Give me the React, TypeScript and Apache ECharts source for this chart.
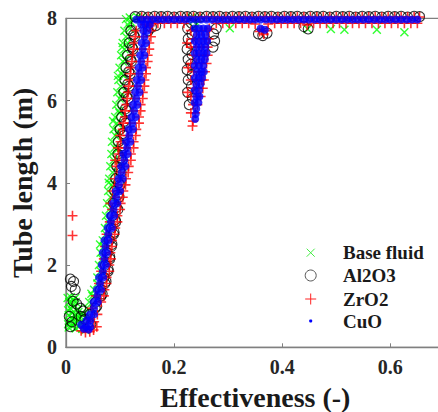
import React, { useEffect, useRef } from "react";
import * as echarts from "echarts";

type P = [number, number];

const xTicks = [0, 0.2, 0.4, 0.6];
const yTicks = [0, 2, 4, 6, 8];

const baseFluid: P[] = [
  [0.005,0.48],[0.011,0.52],[0.018,0.46],[0.024,0.5],[0.007,0.62],[0.014,0.68],[0.021,0.64],[0.005,0.78],[0.012,0.84],[0.019,0.8],[0.026,0.76],[0.008,0.95],[0.015,1.0],[0.022,0.93],[0.006,1.1],[0.013,1.15],[0.009,1.22],[0.017,1.2],[0.03,0.45],[0.036,0.42],[0.027,0.58],
  [0.004,0.56],[0.01,0.72],[0.016,0.58],[0.023,0.86],[0.004,0.9],[0.011,1.06],[0.018,1.1],[0.003,1.2],[0.02,0.72],
  [0.032,0.8],[0.038,0.95],[0.03,0.65],[0.036,0.72],[0.043,1.1],[0.049,1.25],[0.047,1.3],[0.052,1.4],[0.058,1.55],[0.058,1.7],[0.064,1.85],[0.061,2.0],[0.067,2.15],[0.064,2.3],[0.07,2.45],[0.063,2.5],
  [0.068,2.6],[0.074,2.75],[0.072,2.9],[0.078,3.05],[0.074,3.2],[0.08,3.35],[0.076,3.5],[0.082,3.65],[0.078,3.8],[0.084,3.95],[0.079,4.0],[0.08,4.1],[0.086,4.25],[0.082,4.4],[0.088,4.55],
  [0.084,4.7],[0.09,4.85],[0.085,5.0],[0.091,5.15],[0.088,5.3],[0.094,5.45],[0.087,5.5],[0.091,5.6],[0.097,5.75],[0.093,5.9],[0.099,6.05],[0.095,6.2],[0.101,6.35],[0.097,6.5],[0.103,6.65],[0.096,6.6],
  [0.099,6.8],[0.105,6.95],[0.102,7.1],[0.108,7.25],[0.104,7.3],[0.105,7.4],[0.111,7.55],[0.108,7.7],[0.114,7.85],
  [0.094,4.8],[0.096,5.25],[0.099,5.7],[0.104,6.15],[0.107,6.6],[0.11,7.0],[0.114,7.4],[0.118,7.75],
  [0.111,7.98],[0.118,8.02],[0.125,7.97],[0.132,8.03],[0.121,7.9],[0.138,8.0],
  [0.236,7.95],[0.241,7.85],[0.238,7.75],[0.244,8.0],[0.232,8.02],
  [0.303,7.76],[0.447,7.74],[0.49,7.74],[0.515,7.72],[0.575,7.72],[0.626,7.66]
];

const al2o3: P[] = [
  [0.008,1.66],[0.014,1.6],[0.01,1.48],[0.017,1.4],[0.013,1.12],[0.02,1.05],[0.027,0.95],[0.032,0.88],[0.006,0.75],[0.011,0.62],[0.008,0.5],[0.028,0.75],[0.035,0.68],[0.041,0.6],[0.046,0.55],
  [0.044,0.8],[0.054,0.95],[0.055,1.1],[0.065,1.25],[0.064,1.4],[0.072,1.55],[0.07,1.7],[0.078,1.85],[0.073,2.0],[0.081,2.15],[0.076,2.3],[0.084,2.45],[0.08,2.6],[0.088,2.75],[0.084,2.9],[0.092,3.05],
  [0.086,3.2],[0.096,3.35],[0.088,3.5],[0.098,3.65],[0.09,3.8],[0.1,3.95],[0.092,4.1],[0.102,4.25],[0.094,4.4],[0.104,4.55],[0.096,4.7],[0.106,4.85],[0.097,5.0],[0.107,5.15],[0.1,5.3],[0.11,5.45],
  [0.103,5.6],[0.113,5.75],[0.105,5.9],[0.115,6.05],[0.107,6.2],[0.117,6.35],[0.109,6.5],[0.119,6.65],[0.111,6.8],[0.121,6.95],[0.114,7.1],[0.124,7.25],[0.117,7.4],[0.127,7.55],[0.12,7.7],[0.13,7.85],
  [0.057,1.0],[0.067,1.3],[0.074,1.6],[0.078,1.9],[0.081,2.2],[0.085,2.5],[0.089,2.8],[0.091,3.1],[0.093,3.4],[0.095,3.7],[0.097,4.0],[0.099,4.3],[0.101,4.6],[0.103,4.9],[0.105,5.2],[0.108,5.5],
  [0.11,5.8],[0.112,6.1],[0.114,6.4],[0.116,6.7],[0.119,7.0],[0.122,7.3],[0.125,7.6],
  [0.128,8.04],[0.14,8.05],[0.152,8.03],[0.164,8.05],[0.176,8.04],[0.188,8.05],[0.2,8.03],[0.212,8.05],[0.224,8.04],[0.236,8.05],[0.248,8.03],[0.26,8.05],[0.272,8.04],[0.284,8.05],[0.296,8.03],
  [0.308,8.05],[0.32,8.04],[0.332,8.05],[0.344,8.03],[0.356,8.05],[0.368,8.04],[0.38,8.05],[0.392,8.03],[0.404,8.05],[0.416,8.04],[0.428,8.05],[0.44,8.03],[0.452,8.05],[0.464,8.04],[0.476,8.05],
  [0.488,8.03],[0.5,8.05],[0.512,8.04],[0.524,8.05],[0.536,8.03],[0.548,8.05],[0.56,8.04],[0.572,8.05],[0.584,8.03],[0.596,8.05],[0.608,8.04],[0.62,8.05],[0.632,8.03],[0.644,8.05],[0.654,8.04],
  [0.152,7.7],[0.158,7.78],[0.166,7.82],
  [0.228,5.9],[0.234,6.05],[0.225,6.2],[0.232,6.35],[0.226,6.5],[0.233,6.62],[0.224,6.75],[0.231,6.88],[0.226,7.0],[0.233,7.12],[0.224,7.25],[0.231,7.38],[0.226,7.5],[0.233,7.62],[0.225,7.75],[0.232,7.88],
  [0.272,7.3],[0.275,7.45],[0.273,7.62],[0.278,7.75],
  [0.356,7.62],[0.364,7.58],[0.372,7.64],
  [0.44,7.8],[0.448,7.74]
];

const zro2: P[] = [
  [0.012,3.2],[0.012,2.72],
  [0.028,0.4],[0.036,0.36],[0.044,0.38],[0.051,0.42],[0.057,0.5],[0.033,0.47],[0.04,0.5],[0.052,0.62],[0.045,0.68],
  [0.058,0.8],[0.048,0.95],[0.065,1.1],[0.055,1.25],[0.071,1.4],[0.061,1.55],[0.075,1.7],[0.065,1.85],[0.08,2.0],[0.07,2.15],[0.082,2.3],[0.072,2.45],[0.085,2.6],[0.075,2.75],[0.091,2.9],[0.081,3.05],
  [0.095,3.2],[0.085,3.35],[0.101,3.5],[0.091,3.65],[0.082,3.5],[0.106,3.8],[0.096,3.95],[0.086,3.8],[0.111,4.1],[0.101,4.25],[0.09,4.1],[0.116,4.4],[0.106,4.55],[0.094,4.4],
  [0.12,4.7],[0.11,4.85],[0.098,4.7],[0.125,5.0],[0.114,5.15],[0.101,5.0],[0.13,5.3],[0.119,5.45],[0.105,5.3],[0.135,5.6],[0.124,5.75],[0.109,5.6],[0.138,5.9],[0.127,6.05],[0.112,5.9],
  [0.142,6.2],[0.131,6.35],[0.115,6.2],[0.145,6.5],[0.134,6.65],[0.118,6.5],[0.148,6.8],[0.137,6.95],[0.12,6.8],[0.151,7.1],[0.14,7.25],[0.123,7.1],[0.154,7.4],[0.143,7.55],[0.126,7.4],
  [0.157,7.7],[0.146,7.85],[0.13,7.7],[0.155,7.82],[0.16,7.86],
  [0.091,4.55],[0.096,4.85],[0.1,5.15],[0.106,5.45],[0.109,5.75],[0.113,6.05],[0.116,6.35],[0.119,6.65],[0.122,6.95],[0.125,7.25],[0.128,7.55],
  [0.07,1.25],[0.075,1.55],[0.08,1.85],[0.083,2.15],[0.085,2.45],[0.09,2.75],[0.095,3.05],[0.1,3.35],[0.105,3.65],[0.11,3.95],[0.115,4.25],[0.12,4.55],[0.125,4.85],[0.129,5.15],[0.135,5.45],
  [0.138,5.75],[0.142,6.05],[0.145,6.35],[0.148,6.65],[0.151,6.95],[0.154,7.25],[0.157,7.55],
  [0.14,8.03],[0.152,8.03],[0.164,8.03],[0.176,8.03],[0.188,8.03],[0.2,8.03],[0.212,8.03],[0.224,8.03],[0.236,8.03],[0.248,8.03],[0.26,8.03],[0.272,8.03],[0.284,8.03],[0.296,8.03],[0.308,8.03],
  [0.32,8.03],[0.332,8.03],[0.344,8.03],[0.356,8.03],[0.368,8.03],[0.38,8.03],[0.392,8.03],[0.404,8.03],[0.416,8.03],[0.428,8.03],[0.44,8.03],[0.452,8.03],[0.464,8.03],[0.476,8.03],[0.488,8.03],
  [0.5,8.03],[0.512,8.03],[0.524,8.03],[0.536,8.03],[0.548,8.03],[0.56,8.03],[0.572,8.03],[0.584,8.03],[0.596,8.03],[0.608,8.03],[0.62,8.03],[0.632,8.03],[0.644,8.03],[0.654,8.03],
  [0.158,7.88],[0.17,7.88],[0.182,7.88],[0.194,7.88],[0.206,7.88],[0.218,7.88],[0.278,7.88],[0.29,7.88],[0.302,7.88],[0.314,7.88],[0.326,7.88],[0.338,7.88],[0.35,7.86],[0.362,7.7],[0.374,7.86],
  [0.386,7.88],[0.398,7.88],[0.41,7.88],[0.422,7.88],[0.434,7.88],[0.446,7.84],[0.458,7.88],[0.47,7.88],[0.482,7.88],[0.494,7.88],[0.506,7.88],[0.518,7.88],[0.53,7.88],[0.542,7.88],[0.554,7.88],
  [0.566,7.88],[0.578,7.88],[0.59,7.88],[0.602,7.88],[0.614,7.88],[0.626,7.88],[0.638,7.88],[0.65,7.88],
  [0.231,7.7],[0.241,7.7],[0.251,7.7],[0.261,7.7],[0.265,7.75],[0.236,7.5],[0.246,7.5],[0.256,7.5],[0.264,7.5],[0.231,7.3],[0.241,7.3],[0.251,7.3],[0.262,7.3],[0.236,7.1],[0.246,7.1],[0.256,7.1],[0.262,7.1],
  [0.231,6.9],[0.241,6.9],[0.251,6.9],[0.26,6.9],[0.236,6.7],[0.246,6.7],[0.257,6.7],[0.231,6.5],[0.241,6.5],[0.251,6.5],[0.255,6.5],[0.236,6.3],[0.246,6.3],[0.253,6.3],[0.231,6.1],[0.241,6.1],[0.249,6.1],
  [0.235,5.9],[0.243,5.9],[0.231,5.7],[0.239,5.7],[0.235,5.5],[0.234,5.38],[0.224,7.4],[0.226,6.8],[0.225,6.2],
  [0.358,7.68],[0.366,7.62],[0.372,7.7]
];

const cuo: P[] = [
  [0.028,0.55],[0.033,0.45],[0.042,0.43],[0.045,0.5],[0.037,0.5],[0.045,0.65],[0.038,0.66],[0.052,0.8],[0.044,0.8],[0.052,0.95],[0.059,1.1],[0.051,1.1],[0.058,1.25],
  [0.065,1.4],[0.057,1.4],[0.063,1.55],[0.069,1.7],[0.061,1.7],[0.068,1.85],[0.074,2.0],[0.066,2.0],[0.071,2.15],[0.076,2.3],[0.068,2.3],[0.073,2.45],
  [0.079,2.6],[0.071,2.6],[0.078,2.75],[0.085,2.9],[0.077,2.9],[0.083,3.05],[0.089,3.2],[0.081,3.2],[0.088,3.35],[0.095,3.5],[0.087,3.5],[0.093,3.65],
  [0.1,3.8],[0.092,3.8],[0.098,3.95],[0.105,4.1],[0.097,4.1],[0.103,4.25],[0.11,4.4],[0.102,4.4],[0.108,4.55],
  [0.114,4.7],[0.106,4.7],[0.113,4.85],[0.119,5.0],[0.111,5.0],[0.117,5.15],[0.124,5.3],[0.116,5.3],[0.123,5.45],
  [0.129,5.6],[0.121,5.6],[0.126,5.75],[0.132,5.9],[0.124,5.9],[0.13,6.05],[0.136,6.2],[0.128,6.2],[0.133,6.35],
  [0.139,6.5],[0.131,6.5],[0.136,6.65],[0.142,6.8],[0.134,6.8],[0.139,6.95],[0.145,7.1],[0.137,7.1],[0.142,7.25],
  [0.148,7.4],[0.14,7.4],[0.145,7.55],[0.151,7.7],[0.143,7.7],[0.147,7.85],[0.155,7.85],[0.139,7.85],
  [0.13,7.97],[0.14,7.97],[0.15,7.97],[0.16,7.97],[0.17,7.97],[0.18,7.97],[0.19,7.97],[0.2,7.97],[0.21,7.97],[0.22,7.97],[0.23,7.97],[0.24,7.97],[0.25,7.97],[0.26,7.97],[0.27,7.97],[0.28,7.97],
  [0.29,7.97],[0.3,7.97],[0.31,7.97],[0.32,7.97],[0.33,7.97],[0.34,7.97],[0.35,7.97],[0.36,7.97],[0.37,7.97],[0.38,7.97],[0.39,7.97],[0.4,7.97],[0.41,7.97],[0.42,7.97],[0.43,7.97],[0.44,7.97],
  [0.45,7.97],[0.46,7.97],[0.47,7.97],[0.48,7.97],[0.49,7.97],[0.5,7.97],[0.51,7.97],[0.52,7.97],[0.53,7.97],[0.54,7.97],[0.55,7.97],[0.56,7.97],[0.57,7.97],[0.58,7.97],[0.59,7.97],[0.6,7.97],
  [0.61,7.97],[0.62,7.97],[0.63,7.97],[0.64,7.97],[0.65,7.97],
  [0.238,7.75],[0.246,7.75],[0.254,7.75],[0.262,7.75],[0.242,7.6],[0.25,7.6],[0.258,7.6],[0.238,7.45],[0.246,7.45],[0.254,7.45],[0.261,7.45],[0.242,7.3],[0.25,7.3],[0.258,7.3],
  [0.238,7.15],[0.246,7.15],[0.254,7.15],[0.26,7.15],[0.242,7.0],[0.25,7.0],[0.257,7.0],[0.238,6.85],[0.246,6.85],[0.254,6.85],[0.242,6.7],[0.25,6.7],[0.255,6.7],[0.238,6.55],[0.246,6.55],[0.252,6.55],
  [0.241,6.4],[0.249,6.4],[0.238,6.25],[0.246,6.25],[0.241,6.1],[0.247,6.1],[0.238,5.95],[0.245,5.95],[0.241,5.8],[0.24,5.67],[0.239,5.55],
  [0.36,7.75],[0.368,7.72]
];

const legendNames = ["Base fluid", "Al2O3", "ZrO2", "CuO"];

const FONT = "Liberation Serif";

export default function App() {
  const ref = useRef<HTMLDivElement>(null);
  useEffect(() => {
    if (!ref.current) return;
    const chart = echarts.init(ref.current, undefined, { renderer: "svg" });
    const lx = 310.7;
    const tx = 343;
    const ly = [252.7, 275.5, 299, 321];
    const textStyle = (i: number) => ({
      type: "text",
      x: tx,
      y: ly[i],
      style: {
        text: legendNames[i],
        fontFamily: FONT,
        fontWeight: "bold",
        fontSize: 19,
        fill: "#1a1a1a",
        verticalAlign: "middle",
      },
    });
    chart.setOption({
      animation: false,
      backgroundColor: "#ffffff",
      grid: {
        left: 66,
        right: 1.6,
        top: 18.3,
        bottom: 64.7,
        outerBoundsMode: "none",
        containLabel: false,
        show: true,
        borderColor: "#808080",
        borderWidth: 1.3,
        backgroundColor: "transparent",
      },
      xAxis: {
        type: "value",
        min: xTicks[0],
        max: 0.7,
        interval: 0.2,
        name: "Effectiveness (-)",
        nameLocation: "middle",
        nameGap: 36,
        nameTextStyle: { fontFamily: FONT, fontWeight: "bold", fontSize: 28, color: "#1a1a1a" },
        axisLine: { show: true, lineStyle: { color: "#808080", width: 1.3 } },
        axisTick: { show: true, inside: true, length: 4, lineStyle: { color: "#808080" } },
        axisLabel: {
          showMaxLabel: false,
          margin: 10,
          fontFamily: FONT,
          fontWeight: "bold",
          fontSize: 20,
          color: "#262626",
        },
        splitLine: { show: false },
      },
      yAxis: {
        type: "value",
        min: yTicks[0],
        max: yTicks[yTicks.length - 1],
        interval: 2,
        name: "Tube length (m)",
        nameLocation: "middle",
        nameGap: 25,
        nameTextStyle: { fontFamily: FONT, fontWeight: "bold", fontSize: 28, color: "#1a1a1a" },
        axisLine: { show: true, lineStyle: { color: "#808080", width: 1.3 } },
        axisTick: { show: true, inside: true, length: 4, lineStyle: { color: "#808080" } },
        axisLabel: {
          margin: 9,
          fontFamily: FONT,
          fontWeight: "bold",
          fontSize: 20,
          color: "#262626",
        },
        splitLine: { show: false },
      },
      series: [
        {
          type: "scatter",
          name: legendNames[0],
          data: baseFluid,
          symbol: "path://M0 0L10 10M10 0L0 10",
          symbolSize: 8,
          clip: false,
          silent: true,
          itemStyle: { color: "rgba(0,0,0,0)", borderColor: "#00ff00", borderWidth: 1.4 },
        },
        {
          type: "scatter",
          name: legendNames[1],
          data: al2o3,
          symbol: "circle",
          symbolSize: 10,
          clip: false,
          silent: true,
          itemStyle: { color: "rgba(0,0,0,0)", borderColor: "#000000", borderWidth: 1.1 },
        },
        {
          type: "scatter",
          name: legendNames[2],
          data: zro2,
          symbol: "path://M5 0L5 10M0 5L10 5",
          symbolSize: 10,
          clip: false,
          silent: true,
          itemStyle: { color: "rgba(0,0,0,0)", borderColor: "#ff0000", borderWidth: 1.6 },
        },
        {
          type: "scatter",
          name: legendNames[3],
          data: cuo,
          symbol: "circle",
          symbolSize: 8,
          clip: false,
          silent: true,
          itemStyle: { color: "#0000ff" },
        },
      ],
      graphic: [
        { type: "line", shape: { x1: lx - 4, y1: ly[0] - 4, x2: lx + 4, y2: ly[0] + 4 }, style: { stroke: "#44ee44", lineWidth: 1 } },
        { type: "line", shape: { x1: lx + 4, y1: ly[0] - 4, x2: lx - 4, y2: ly[0] + 4 }, style: { stroke: "#44ee44", lineWidth: 1 } },
        { type: "circle", shape: { cx: lx, cy: ly[1], r: 5.5 }, style: { fill: "none", stroke: "#444444", lineWidth: 0.9 } },
        { type: "line", shape: { x1: lx - 5.5, y1: ly[2], x2: lx + 5.5, y2: ly[2] }, style: { stroke: "#ff2222", lineWidth: 1 } },
        { type: "line", shape: { x1: lx, y1: ly[2] - 5.5, x2: lx, y2: ly[2] + 5.5 }, style: { stroke: "#ff2222", lineWidth: 1 } },
        { type: "circle", shape: { cx: lx, cy: ly[3], r: 1.6 }, style: { fill: "#0000ff" } },
        textStyle(0),
        textStyle(1),
        textStyle(2),
        textStyle(3),
      ],
    });
    return () => chart.dispose();
  }, []);
  return (
    <div style={{ position: "fixed", left: 0, top: 0, width: 438, height: 412, overflow: "hidden", background: "#fff" }}>
      <div ref={ref} style={{ width: 446, height: 412 }} />
    </div>
  );
}
